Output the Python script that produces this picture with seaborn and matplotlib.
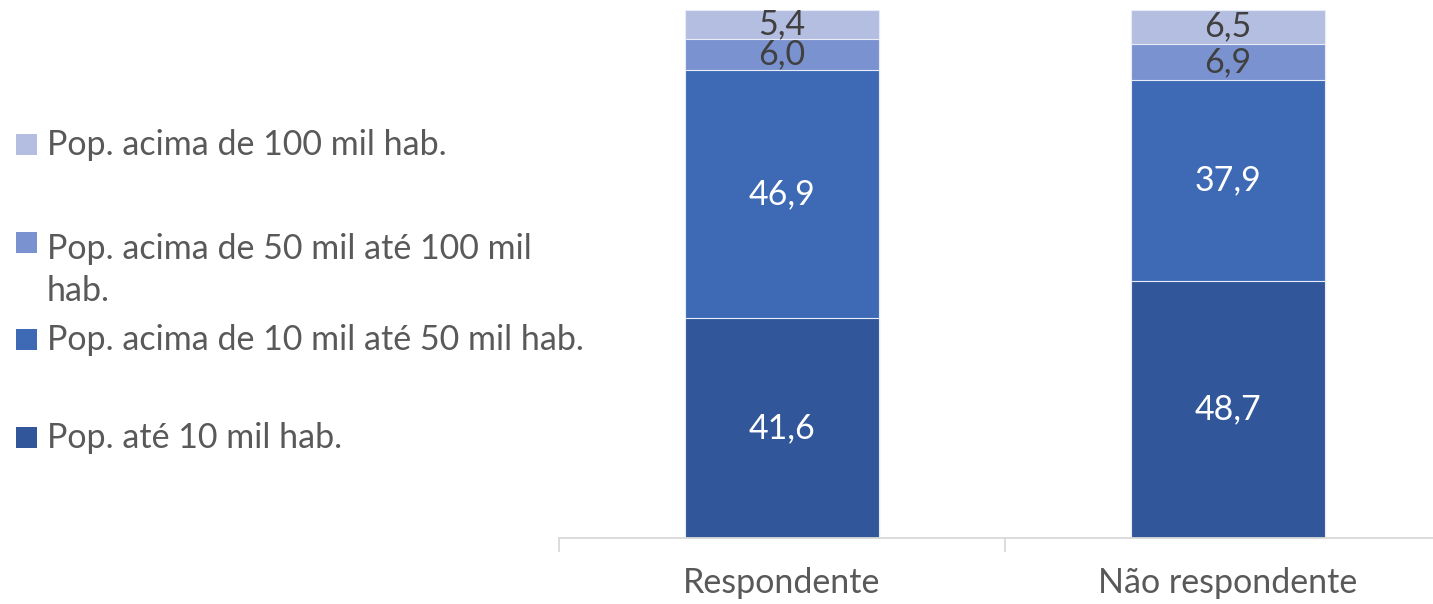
import matplotlib
matplotlib.use("Agg")
import matplotlib.pyplot as plt
from matplotlib.patches import Rectangle
import seaborn as sns
import numpy as np

# dados (%)
categorias = ["Respondente", "Não respondente"]
faixas = [
    "Pop. até 10 mil hab.",
    "Pop. acima de 10 mil até 50 mil hab.",
    "Pop. acima de 50 mil até 100 mil\nhab.",
    "Pop. acima de 100 mil hab.",
]
ate_10 = [41.6, 48.7]
de_10_a_50 = [46.9, 37.9]
de_50_a_100 = [6.0, 6.9]
acima_100 = [5.4, 6.5]

cores = ["#31579A", "#3E6AB5", "#7A93D0", "#B4BEE0"]
cor_rotulo = ["white", "white", "#404040", "#404040"]

sns.set_style("white")
plt.rcParams["font.family"] = ["Lato", "DejaVu Sans"]

W, H = 1433, 604
fig = plt.figure(figsize=(W / 100, H / 100), dpi=100)
ax = fig.add_axes([559 / W, 66 / H, 892 / W, 528.5 / H])

series = [ate_10, de_10_a_50, de_50_a_100, acima_100]
acum = np.cumsum(series, axis=0)

# barras empilhadas: desenha do total acumulado para baixo
for i in reversed(range(len(series))):
    sns.barplot(x=categorias, y=acum[i], color=cores[i], saturation=1,
                width=0.435, edgecolor="#E8ECF6", linewidth=0.8, ax=ax)

for i, vals in enumerate(series):
    for j, v in enumerate(vals):
        ax.text(j, acum[i][j] - v / 2, f"{v:.1f}".replace(".", ","),
                ha="center", va="center", fontsize=24.5, color=cor_rotulo[i])

ax.set_xlim(-0.5, 1.5)
ax.set_ylim(0, 100)
ax.set_yticks([])
ax.set_ylabel("")
for s in ["left", "top", "right"]:
    ax.spines[s].set_visible(False)
ax.spines["bottom"].set_color("#D9D9D9")
ax.spines["bottom"].set_linewidth(1.3)
ax.set_xticks([-0.5, 0.5, 1.5], minor=True)
ax.tick_params(axis="x", which="minor", bottom=True, length=10, width=1.3,
               color="#D9D9D9", direction="out")
ax.tick_params(axis="x", which="major", bottom=True, length=0, pad=21,
               labelsize=24.5, labelcolor="#595959")

# legenda à esquerda
ys = [144, 242, 339, 437]
for k, y in enumerate(ys):
    idx = len(faixas) - 1 - k
    n_linhas = faixas[idx].count("\n")
    fig.add_artist(Rectangle((16 / W, 1 - (y + 10.5) / H), 21 / W, 21 / H,
                             transform=fig.transFigure, facecolor=cores[idx], edgecolor="none"))
    fig.text(47 / W, 1 - (y + 11 + 48 * n_linhas) / H, faixas[idx], ha="left", va="baseline",
             fontsize=24.5, color="#595959", linespacing=1.4)

fig.savefig("out.png", dpi=100)
